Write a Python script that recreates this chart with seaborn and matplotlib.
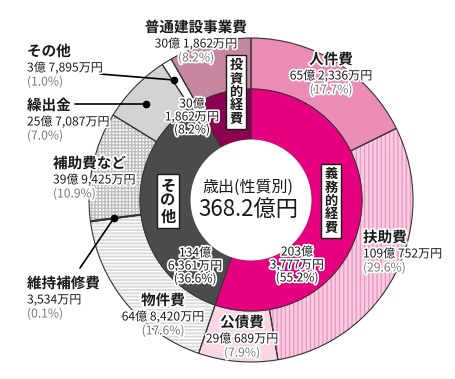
import matplotlib
matplotlib.use("Agg")
import matplotlib.pyplot as plt
import matplotlib.patheffects as pe
from matplotlib.patches import Wedge, Circle
import seaborn as sns

# 歳出（性質別）, values in 万円
outer_labels = ["人件費", "扶助費", "公債費", "物件費", "維持補修費",
                "補助費など", "繰出金", "その他", "普通建設事業費"]
outer_values = [652336, 1090752, 290689, 648420, 3534, 399425, 257087, 37895, 301862]
outer_amounts = ["65億 2,336万円", "109億 752万円", "29億 689万円", "64億 8,420万円",
                 "3,534万円", "39億 9,425万円", "25億 7,087万円", "3億 7,895万円",
                 "30億 1,862万円"]
outer_shares = ["17.7", "29.6", "7.9", "17.6", "0.1", "10.9", "7.0", "1.0", "8.2"]

inner_labels = ["義務的経費", "その他", "投資的経費"]
inner_values = [2033777, 1346361, 301862]
inner_amounts = ["203億\n3,777万円", "134億\n6,361万円", "30億\n1,862万円"]
inner_shares = ["55.2", "36.6", "8.2"]

center_title = "歳出(性質別)"
center_total = "368.2億円"

outer_colors = ["#EB8CB7", "#FBCDE2", "#FAD6E6", "#DADADA", "#E6E6E6",
                "#FFFFFF", "#D3D3D3", "#FFFFFF", "#C7869F"]
outer_hatches = [None, "||||", None, "-----", None, "+++++", None, None, None]
outer_hatch_colors = [None, "#EC97C0", None, "#FFFFFF", None, "#BDBDBD", None, None, None]
inner_colors = ["#E4007F", "#4B4B4B", "#8C0050"]

sns.set_theme(style="white")
plt.rcParams["font.family"] = ["Noto Sans CJK JP", "DejaVu Sans"]
plt.rcParams["hatch.linewidth"] = 1.0

W, H = 456, 379
fig = plt.figure(figsize=(4.56, 3.79), dpi=100)
ax = fig.add_axes([0, 0, 1, 1])

CX, CY = 251, H - 200
R_OUT, R_MID, R_IN = 162, 111, 60
EDGE = "#333333"


def ring(values, colors, radius, width, hatches=None, hatch_colors=None, lw=0.8):
    wedges, _ = ax.pie(values, colors=colors, radius=radius, center=(CX, CY),
                       startangle=90, counterclock=False,
                       wedgeprops=dict(width=width, linewidth=0))
    if hatches:
        for w, h, hc in zip(wedges, hatches, hatch_colors):
            if h:
                ax.add_patch(Wedge(w.center, w.r, w.theta1, w.theta2, width=w.width,
                                   facecolor="none", edgecolor=hc, linewidth=0, hatch=h))
    for w in wedges:
        ax.add_patch(Wedge(w.center, w.r, w.theta1, w.theta2, width=w.width,
                           facecolor="none", edgecolor=EDGE, linewidth=lw))
    return wedges


ring(outer_values, outer_colors, R_OUT, R_OUT - R_MID, outer_hatches, outer_hatch_colors)
ring(inner_values, inner_colors, R_MID, R_MID - R_IN, lw=0.6)
ax.add_patch(Circle((CX, CY), R_IN + 0.5, facecolor="white", edgecolor="none", zorder=3))

halo = [pe.withStroke(linewidth=2.5, foreground="white")]


def iy(y):
    return H - y


# outer labels: (x, title y, alignment) in image pixels
outer_text_pos = [(331, 59, "center"), (363, 237, "left"), (242, 322, "center"),
                  (163, 300, "center"), (27, 283, "left"), (53, 163, "left"),
                  (27, 105, "left"), (27, 51, "left"), (196, 27, "center")]
for name, amount, share, (x, y, ha) in zip(outer_labels, outer_amounts, outer_shares,
                                           outer_text_pos):
    ax.text(x, iy(y), name, ha=ha, va="center", fontsize=10.5, fontweight="bold",
            color="#1A1A1A", path_effects=halo, zorder=5)
    ax.text(x, iy(y + 17), amount, ha=ha, va="center", fontsize=8.7,
            color="#1A1A1A", path_effects=halo, zorder=5)
    ax.text(x, iy(y + 31), f"({share}%)", ha=ha, va="center", fontsize=8.7,
            color="#777777", path_effects=halo, zorder=5)

# leader lines for the thin slices
leaders = [(100, 74, 174, 80), (75, 104, 146, 104), (80, 268, 114, 218)]
for x0, y0, x1, y1 in leaders:
    ax.plot([x0, x1], [iy(y0), iy(y1)], color="black", lw=1.2, zorder=4)
    ax.plot(x1, iy(y1), "o", color="black", ms=4.5, zorder=4)

# inner ring amounts
inner_text_pos = [(297, 265), (195, 266), (192, 117)]
for amount, share, (x, y) in zip(inner_amounts, inner_shares, inner_text_pos):
    ax.text(x, iy(y), f"{amount}\n({share}%)", ha="center", va="center", fontsize=8.7,
            color="#1A1A1A", linespacing=1.0, path_effects=halo, zorder=5)

# vertical boxed category names
inner_box_pos = [(331, 201, 9.5), (168, 201, 11), (236, 92, 9.5)]
for name, (x, y, fs) in zip(inner_labels, inner_box_pos):
    ax.text(x, iy(y), "\n".join(name), ha="center", va="center", fontsize=fs,
            fontweight="bold", color="#1A1A1A", linespacing=0.95, zorder=6,
            bbox=dict(boxstyle="square,pad=0.25", facecolor="white",
                      edgecolor="#1A1A1A", linewidth=1.0))

ax.text(CX - 3, iy(187), center_title, ha="center", va="center", fontsize=11.5,
        color="#1A1A1A", zorder=6)
ax.text(CX - 3, iy(209), center_total, ha="center", va="center", fontsize=16,
        color="#1A1A1A", zorder=6)

ax.set_xlim(0, W)
ax.set_ylim(0, H)
ax.set_aspect("equal")
ax.axis("off")
fig.savefig("out.png", dpi=100)
